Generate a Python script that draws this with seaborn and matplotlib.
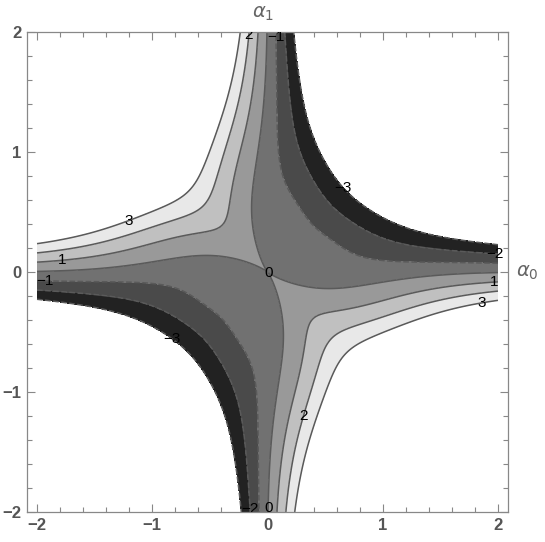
import numpy as np
import matplotlib
matplotlib.use("Agg")
import matplotlib.pyplot as plt
import seaborn as sns

# contour levels and the field behind them
LEVELS = [-3, -2, -1, 0, 1, 2, 3]
K = 6.5          # slope of the -K*a0*a1 saddle
C0 = 1.0         # strength of the twist near the origin
R0 = 0.7
P = 0.6
S = 1.0

# where the contour labels sit (Mathematica style, one per curve)
LABEL_AT = [(-1.2, 0.42), (-1.78, 0.075), (-1.93, -0.075), (-0.15, 1.97),
            (0.08, 1.96), (0.63, 0.68), (1.97, 0.13), (1.97, -0.09),
            (1.85, -0.23), (0.0, 0.0), (-0.84, -0.58), (0.3, -1.2),
            (-0.13, -1.97), (0.0, -1.97)]

a0 = np.linspace(-2, 2, 601)
a1 = np.linspace(-2, 2, 601)
X, Y = np.meshgrid(a0, a1)
R2 = X**2 + Y**2 + 1e-12
R = np.sqrt(R2)
cos2 = (X**2 - Y**2) / R2
sin2 = 2 * X * Y / R2
radial = C0 * (R0 / R)**P * np.exp(-(R2 - R0**2) / S)
twist = radial * R2 * cos2**2 * (1 - sin2)
Z = -K * X * Y - twist

sns.set_style("ticks")
grays = sns.blend_palette(["#222222", "#e8e8e8"], len(LEVELS) - 1)

fig = plt.figure(figsize=(5.45, 5.42), dpi=100)
ax = fig.add_axes([27/545, 1 - 512/542, 481/545, 480/542])

ax.contourf(X, Y, Z, levels=LEVELS, colors=grays)
cs = ax.contour(X, Y, Z, levels=LEVELS, colors="#5a5a5a", linewidths=1.1)
labels = ax.clabel(cs, fmt="%d", manual=LABEL_AT, inline=False, fontsize=11,
                   colors="black")
for t in labels:
    t.set_rotation(0)
    t.set_fontfamily("Liberation Sans")
    t.set_text(t.get_text().replace("-", "\u2212"))

ax.set_xlim(-2.087, 2.087)
ax.set_ylim(-2, 2)
ax.set_xticks([-2, -1, 0, 1, 2])
ax.set_yticks([-2, -1, 0, 1, 2])
ax.set_xticklabels(["\u22122", "\u22121", "0", "1", "2"])
ax.set_yticklabels(["\u22122", "\u22121", "0", "1", "2"])
ax.set_xticks(np.arange(-2, 2.01, 0.2), minor=True)
ax.set_yticks(np.arange(-2, 2.01, 0.2), minor=True)
ax.tick_params(which="both", direction="in", top=True, right=True,
               color="#888888", width=0.8)
ax.tick_params(which="major", length=6, labelsize=12, labelcolor="#555555", pad=4)
ax.tick_params(which="minor", length=3.5)
for lab in ax.get_xticklabels() + ax.get_yticklabels():
    lab.set_fontweight("bold")
    lab.set_fontfamily("Liberation Sans")
for sp in ax.spines.values():
    sp.set_color("#888888")
    sp.set_linewidth(0.9)

fig.text(263/545, 1 - 13/542, r"$\alpha_1$", ha="center", va="center",
         fontsize=14, color="#666666")
fig.text(527/545, 1 - 272/542, r"$\alpha_0$", ha="center", va="center",
         fontsize=14, color="#666666")

fig.savefig("out.png", dpi=100)
